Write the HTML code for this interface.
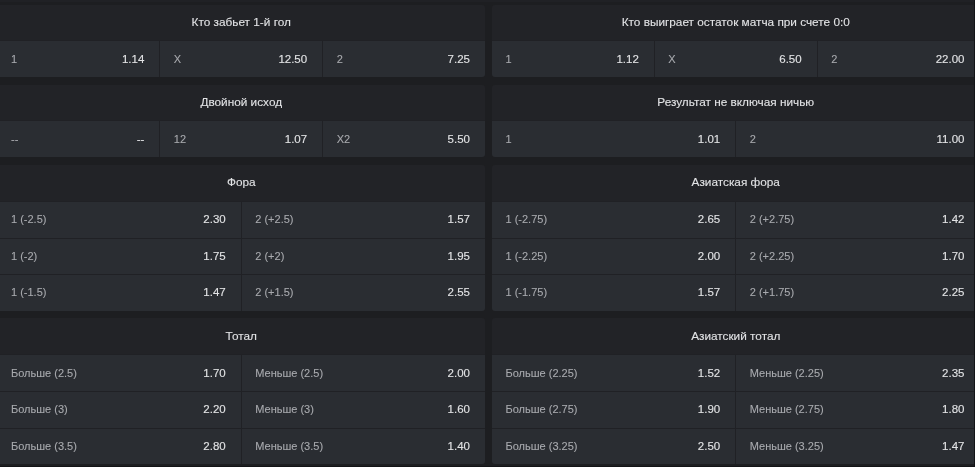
<!DOCTYPE html>
<html><head><meta charset="utf-8"><style>
html,body{margin:0;padding:0;}
body{width:977px;height:468px;overflow:hidden;background:#1d1e21;position:relative;font-family:"Liberation Sans", Arial, sans-serif;font-size:11.5px;}
.blk{position:absolute;background:#202125;border-radius:3px;overflow:hidden;}
.hd{position:absolute;left:0;top:0;right:0;background:#222327;color:#e2e3e5;font-size:11.8px;-webkit-text-stroke:0.1px #e2e3e5;display:flex;align-items:center;justify-content:center;white-space:nowrap;}
.c{position:absolute;background:#2a2d32;display:flex;align-items:center;justify-content:space-between;box-sizing:border-box;padding:0 15px 1px 13.5px;white-space:nowrap;}
.l{color:#a8aaae;font-size:11px;-webkit-text-stroke:0.1px #a8aaae;}
.o{color:#e2e3e5;-webkit-text-stroke:0.12px #e2e3e5;}
.top{position:absolute;left:0;top:0;width:977px;height:2px;background:#202125;}
.wr{position:absolute;left:975px;top:0;width:2px;height:468px;background:#fff;}
.wb{position:absolute;left:0;top:467px;width:977px;height:1px;background:#fff;}
.dr{position:absolute;left:974px;top:0;width:1px;height:467px;background:#131417;}
.db{position:absolute;left:0;top:466px;width:975px;height:1px;background:#131417;}
</style></head><body>
<div class="top"></div>
<div class="blk" style="left:-2.5px;top:4.5px;width:487.5px;height:72.5px"><div class="hd" style="height:35.5px;padding-bottom:0px">Кто забьет 1-й гол</div><div class="c" style="left:0px;top:36.5px;width:161.83px;height:36px"><span class="l">1</span><span class="o">1.14</span></div><div class="c" style="left:162.83px;top:36.5px;width:161.83px;height:36px"><span class="l">X</span><span class="o">12.50</span></div><div class="c" style="left:325.67px;top:36.5px;width:161.83px;height:36px"><span class="l">2</span><span class="o">7.25</span></div></div>
<div class="blk" style="left:-2.5px;top:85px;width:487.5px;height:72.2px"><div class="hd" style="height:33.8px;padding-bottom:1.5px">Двойной исход</div><div class="c" style="left:0px;top:36.3px;width:161.83px;height:35.9px"><span class="l">--</span><span class="o">--</span></div><div class="c" style="left:162.83px;top:36.3px;width:161.83px;height:35.9px"><span class="l">12</span><span class="o">1.07</span></div><div class="c" style="left:325.67px;top:36.3px;width:161.83px;height:35.9px"><span class="l">X2</span><span class="o">5.50</span></div></div>
<div class="blk" style="left:-2.5px;top:164.6px;width:487.5px;height:146px"><div class="hd" style="height:34.7px;padding-bottom:1.5px">Фора</div><div class="c" style="left:0px;top:37.2px;width:243.25px;height:35.9px"><span class="l">1 (-2.5)</span><span class="o">2.30</span></div><div class="c" style="left:244.25px;top:37.2px;width:243.25px;height:35.9px"><span class="l">2 (+2.5)</span><span class="o">1.57</span></div><div class="c" style="left:0px;top:74.1px;width:243.25px;height:35.7px"><span class="l">1 (-2)</span><span class="o">1.75</span></div><div class="c" style="left:244.25px;top:74.1px;width:243.25px;height:35.7px"><span class="l">2 (+2)</span><span class="o">1.95</span></div><div class="c" style="left:0px;top:110.8px;width:243.25px;height:35.2px"><span class="l">1 (-1.5)</span><span class="o">1.47</span></div><div class="c" style="left:244.25px;top:110.8px;width:243.25px;height:35.2px"><span class="l">2 (+1.5)</span><span class="o">2.55</span></div></div>
<div class="blk" style="left:-2.5px;top:318px;width:487.5px;height:146px"><div class="hd" style="height:35.9px;padding-bottom:0.5px">Тотал</div><div class="c" style="left:0px;top:37.4px;width:243.25px;height:35.6px"><span class="l">Больше (2.5)</span><span class="o">1.70</span></div><div class="c" style="left:244.25px;top:37.4px;width:243.25px;height:35.6px"><span class="l">Меньше (2.5)</span><span class="o">2.00</span></div><div class="c" style="left:0px;top:74px;width:243.25px;height:35.8px"><span class="l">Больше (3)</span><span class="o">2.20</span></div><div class="c" style="left:244.25px;top:74px;width:243.25px;height:35.8px"><span class="l">Меньше (3)</span><span class="o">1.60</span></div><div class="c" style="left:0px;top:110.8px;width:243.25px;height:35.2px"><span class="l">Больше (3.5)</span><span class="o">2.80</span></div><div class="c" style="left:244.25px;top:110.8px;width:243.25px;height:35.2px"><span class="l">Меньше (3.5)</span><span class="o">1.40</span></div></div>
<div class="blk" style="left:492px;top:4.5px;width:487.5px;height:72.5px"><div class="hd" style="height:35.5px;padding-bottom:0px">Кто выиграет остаток матча при счете 0:0</div><div class="c" style="left:0px;top:36.5px;width:161.83px;height:36px"><span class="l">1</span><span class="o">1.12</span></div><div class="c" style="left:162.83px;top:36.5px;width:161.83px;height:36px"><span class="l">X</span><span class="o">6.50</span></div><div class="c" style="left:325.67px;top:36.5px;width:161.83px;height:36px"><span class="l">2</span><span class="o">22.00</span></div></div>
<div class="blk" style="left:492px;top:85px;width:487.5px;height:72.2px"><div class="hd" style="height:33.8px;padding-bottom:1.5px">Результат не включая ничью</div><div class="c" style="left:0px;top:36.3px;width:243.25px;height:35.9px"><span class="l">1</span><span class="o">1.01</span></div><div class="c" style="left:244.25px;top:36.3px;width:243.25px;height:35.9px"><span class="l">2</span><span class="o">11.00</span></div></div>
<div class="blk" style="left:492px;top:164.6px;width:487.5px;height:146px"><div class="hd" style="height:34.7px;padding-bottom:1.5px">Азиатская фора</div><div class="c" style="left:0px;top:37.2px;width:243.25px;height:35.9px"><span class="l">1 (-2.75)</span><span class="o">2.65</span></div><div class="c" style="left:244.25px;top:37.2px;width:243.25px;height:35.9px"><span class="l">2 (+2.75)</span><span class="o">1.42</span></div><div class="c" style="left:0px;top:74.1px;width:243.25px;height:35.7px"><span class="l">1 (-2.25)</span><span class="o">2.00</span></div><div class="c" style="left:244.25px;top:74.1px;width:243.25px;height:35.7px"><span class="l">2 (+2.25)</span><span class="o">1.70</span></div><div class="c" style="left:0px;top:110.8px;width:243.25px;height:35.2px"><span class="l">1 (-1.75)</span><span class="o">1.57</span></div><div class="c" style="left:244.25px;top:110.8px;width:243.25px;height:35.2px"><span class="l">2 (+1.75)</span><span class="o">2.25</span></div></div>
<div class="blk" style="left:492px;top:318px;width:487.5px;height:146px"><div class="hd" style="height:35.9px;padding-bottom:0.5px">Азиатский тотал</div><div class="c" style="left:0px;top:37.4px;width:243.25px;height:35.6px"><span class="l">Больше (2.25)</span><span class="o">1.52</span></div><div class="c" style="left:244.25px;top:37.4px;width:243.25px;height:35.6px"><span class="l">Меньше (2.25)</span><span class="o">2.35</span></div><div class="c" style="left:0px;top:74px;width:243.25px;height:35.8px"><span class="l">Больше (2.75)</span><span class="o">1.90</span></div><div class="c" style="left:244.25px;top:74px;width:243.25px;height:35.8px"><span class="l">Меньше (2.75)</span><span class="o">1.80</span></div><div class="c" style="left:0px;top:110.8px;width:243.25px;height:35.2px"><span class="l">Больше (3.25)</span><span class="o">2.50</span></div><div class="c" style="left:244.25px;top:110.8px;width:243.25px;height:35.2px"><span class="l">Меньше (3.25)</span><span class="o">1.47</span></div></div>
<div class="dr"></div><div class="db"></div>
<div class="wr"></div><div class="wb"></div>
</body></html>
